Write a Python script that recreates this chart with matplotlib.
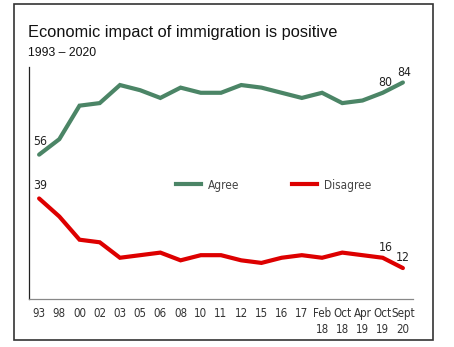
import matplotlib
matplotlib.use("Agg")
import matplotlib.pyplot as plt
from matplotlib.patches import Rectangle
from matplotlib.lines import Line2D

# survey waves
labels = ["93", "98", "00", "02", "03", "05", "06", "08", "10", "11", "12",
          "15", "16", "17", "Feb\n18", "Oct\n18", "Apr\n19", "Oct\n19", "Sept\n20"]
agree = [56, 62, 75, 76, 83, 81, 78, 82, 80, 80, 83, 82, 80, 78, 80, 76, 77, 80, 84]
disagree = [39, 32, 23, 22, 16, 17, 18, 15, 17, 17, 15, 14, 16, 17, 16, 18, 17, 16, 12]

green = "#4b8566"
red = "#dd0000"
cond = dict(family="DejaVu Sans", stretch="condensed")

fig = plt.figure(figsize=(4.54, 3.47), dpi=100)

# outer frame
fig.patches.append(Rectangle((13.5 / 454, 1 - 340 / 347), (433 - 13.5) / 454, (340 - 4) / 347,
                             transform=fig.transFigure, fill=False, edgecolor="#333333",
                             linewidth=1.2))

ax = fig.add_axes([29 / 454, 1 - 299 / 347, (413 - 29) / 454, (299 - 67) / 347])
x = list(range(len(labels)))
ax.plot(x, agree, color=green, linewidth=3, solid_capstyle="round", solid_joinstyle="miter")
ax.plot(x, disagree, color=red, linewidth=3, solid_capstyle="round", solid_joinstyle="miter")
ax.set_xlim(-0.5, 18.5)
ax.set_ylim(0, 90)

ax.spines["top"].set_visible(False)
ax.spines["right"].set_visible(False)
ax.spines["left"].set_color("#222222")
ax.spines["bottom"].set_color("#888888")
ax.spines["left"].set_linewidth(0.9)
ax.spines["bottom"].set_linewidth(0.9)
ax.set_yticks([])
ax.set_xticks(x)
ax.set_xticklabels(labels, fontsize=8.3, color="#333333", linespacing=1.25, va="top", **cond)
ax.tick_params(axis="x", length=0, pad=6)

# value labels
lab_kw = dict(fontsize=8.8, color="#222222", ha="center", **cond)
ax.annotate(str(agree[0]), (0, agree[0]), xytext=(1, 7), textcoords="offset points", **lab_kw)
ax.annotate(str(disagree[0]), (0, disagree[0]), xytext=(1, 7), textcoords="offset points", **lab_kw)
ax.annotate(str(agree[17]), (17, agree[17]), xytext=(2, 5), textcoords="offset points", **lab_kw)
ax.annotate(str(agree[18]), (18, agree[18]), xytext=(1, 5), textcoords="offset points", **lab_kw)
ax.annotate(str(disagree[17]), (17, disagree[17]), xytext=(2, 5), textcoords="offset points", **lab_kw)
ax.annotate(str(disagree[18]), (18, disagree[18]), xytext=(0, 5), textcoords="offset points", **lab_kw)

# legend
handles = [Line2D([], [], color=green, linewidth=3), Line2D([], [], color=red, linewidth=3)]
ax.legend(handles, ["Agree", "Disagree"], loc="center", bbox_to_anchor=(0.637, 0.491),
          ncol=2, frameon=False, handlelength=2.1, columnspacing=4.5, handletextpad=0.6,
          prop={"size": 8.5, **cond}, labelcolor="#444444")

fig.text(28 / 454, 1 - 32 / 347, "Economic impact of immigration is positive",
         family=["Liberation Sans", "DejaVu Sans"], fontsize=11.8, va="center", color="#111111")
fig.text(28 / 454, 1 - 53 / 347, "1993 \u2013 2020",
         family=["Liberation Sans", "DejaVu Sans"], fontsize=8.8, va="center", color="#111111")

fig.savefig("out.png", dpi=100)
